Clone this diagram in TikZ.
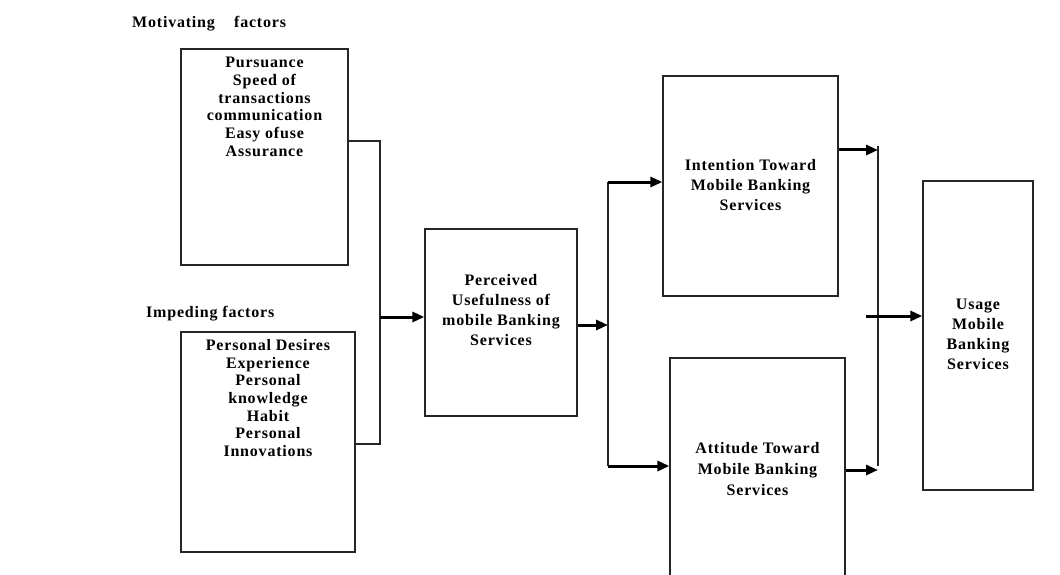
\documentclass[tikz,border=0pt]{standalone}
\usepackage{fontspec}
\setmainfont{Liberation Serif}[LetterSpace=5]
\usetikzlibrary{arrows.meta}
\begin{document}
\begin{tikzpicture}[x=1pt,y=-1pt,
  box/.style={draw=black!85, line width=1.3pt, rectangle, inner sep=0pt},
  txt/.style={align=center, font=\bfseries\fontsize{16}{17.7}\selectfont, inner sep=0pt},
  lbl/.style={font=\bfseries\fontsize{16}{18}\selectfont, inner sep=0pt, anchor=west},
  ln/.style={line width=1.5pt, draw=black!85},
  arr/.style={line width=3pt, -{Triangle[length=12pt,width=10pt]}}]
\useasboundingbox (0,0) rectangle (1060,575);
\fill[white] (0,0) rectangle (1060,575);
\begin{scope}
\clip (0,0) rectangle (1060,575);
% boxes
\node[box, minimum width=167pt, minimum height=216pt] (m) at (264.5,157) {};
\node[box, minimum width=174pt, minimum height=220pt] (i) at (268,442) {};
\node[box, minimum width=152pt, minimum height=187pt] (p) at (501,322.5) {};
\node[box, minimum width=175pt, minimum height=220pt] (t) at (750.5,186) {};
\node[box, minimum width=175pt, minimum height=250pt] (a) at (757.5,483) {};
\node[box, minimum width=110pt, minimum height=309pt] (u) at (978,335.5) {};
\end{scope}
% labels
\node[lbl] (ml) at (132,24) {Motivating\hspace{1.2em}factors};
\node[lbl] (il) at (146,314) {Impeding factors};
% texts
\node[txt, anchor=north] (mt) at (264.5,57) {Pursuance\\Speed of\\transactions\\communication\\Easy ofuse\\Assurance};
\node[txt, anchor=north] (it) at (268,339) {Personal Desires\\Experience\\Personal\\knowledge\\Habit\\Personal\\Innovations};
\node[txt, anchor=north, font=\bfseries\fontsize{16}{20}\selectfont] (pt) at (501,274) {Perceived\\Usefulness of\\mobile Banking\\Services};
\node[txt, anchor=north, font=\bfseries\fontsize{16}{20}\selectfont] (tt) at (750.5,159) {Intention Toward\\Mobile Banking\\Services};
\node[txt, anchor=north, font=\bfseries\fontsize{16}{21}\selectfont] (at) at (757.5,442) {Attitude Toward\\Mobile Banking\\Services};
\node[txt, anchor=north, font=\bfseries\fontsize{16}{20}\selectfont] (ut) at (978,299) {Usage\\Mobile\\Banking\\Services};
% left connectors
\coordinate (ja) at (380,141);
\coordinate (jb) at (380,444);
\coordinate (jm) at (380,317);
\draw[ln] (ja -| m.east) -- (ja) -- (jb) -- (jb -| i.east);
\draw[arr] (jm) -- (jm -| p.west);
% middle
\coordinate (k) at (608,325);
\coordinate (kt) at (608,182);
\coordinate (kb) at (608,466);
\draw[arr] (k -| p.east) -- (k);
\draw[ln] (kt) -- (kb);
\draw[arr] (kt) -- (kt -| t.west);
\draw[arr] (kb) -- (kb -| a.west);
% right
\coordinate (r1) at (878,150);
\coordinate (r2) at (878,470);
\coordinate (rt) at (878,146);
\coordinate (rb) at (878,466);
\coordinate (rm) at (866,316);
\draw[ln] (rt) -- (rb);
\draw[arr] (r1 -| t.east) -- (r1);
\draw[arr] (r2 -| a.east) -- (r2);
\draw[arr] (rm) -- (rm -| u.west);
\end{tikzpicture}
\end{document}
